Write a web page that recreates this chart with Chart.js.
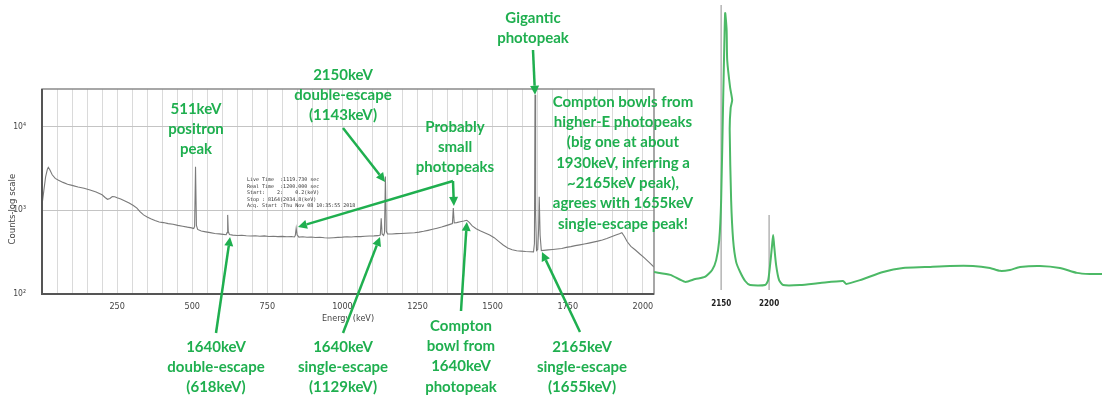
<!DOCTYPE html>
<html><head><meta charset="utf-8">
<script src="https://cdn.jsdelivr.net/npm/chart.js@4"></script>
<style>
html,body{margin:0;padding:0;background:#fff;}
#wrap{position:relative;width:1102px;height:400px;}
canvas{position:absolute;left:0;top:0;}
</style>
</head><body>
<div id="wrap"><canvas id="c1" width="1102" height="400"></canvas><canvas id="c2" width="1102" height="400"></canvas></div>
<script>
// ---- Main spectrum (energy in keV, counts, log scale) ----
const energyKeV = [
  0,6,12,18,21,26,34,44,55,70,
  85,100,120,140,160,180,200,210,218,226,
  234,242,250,262,276,290,304,316,326,338,
  350,362,376,390,404,420,436,452,468,484,
  498,505,508,511,514,518,530,545,560,575,
  590,603,613,616,618,620,624,635,650,665,
  680,695,710,725,740,755,770,785,800,815,
  830,840,843,846,849,855,868,882,896,910,
  925,940,955,970,985,1000,1015,1030,1045,1060,
  1075,1090,1105,1118,1126,1129,1132,1137,1140,1143,
  1146,1150,1165,1180,1195,1210,1225,1240,1255,1270,
  1285,1300,1315,1330,1345,1358,1366,1369,1372,1380,
  1392,1404,1414,1422,1432,1445,1460,1475,1490,1505,
  1520,1535,1550,1565,1580,1595,1610,1625,1636,1639,
  1641,1643,1646,1650,1653,1655,1658,1662,1670,1685,
  1700,1715,1730,1745,1760,1775,1790,1805,1820,1835,
  1850,1865,1880,1895,1910,1922,1930,1938,1948,1960,
  1975,1990,2005,2020,2037
];
const counts = [
  1150,1700,2500,3100,3250,3050,2650,2400,2280,2150,
  2040,1980,1890,1830,1740,1650,1530,1420,1350,1380,
  1460,1450,1410,1360,1290,1220,1140,1060,960,880,
  830,790,755,725,712,692,680,660,645,628,
  616,605,640,3300,660,590,565,552,540,528,
  522,515,510,540,880,560,512,505,500,503,
  496,492,495,490,494,486,490,484,488,482,
  486,480,500,610,510,478,482,475,479,472,
  476,469,466,470,474,477,482,480,486,484,
  489,492,494,497,505,800,520,500,540,2520,
  560,522,520,526,528,532,535,538,548,560,
  575,592,610,630,655,678,692,1060,705,712,
  728,742,758,715,650,600,565,535,505,470,
  425,385,355,338,328,325,322,320,318,400,
  23900,900,330,340,600,1450,500,330,332,336,
  340,345,350,360,368,378,386,395,405,416,
  428,442,460,482,505,525,540,490,420,370,
  335,300,270,240,210
];
const gridKeV = [0,50,100,150,200,250,300,350,400,450,500,550,600,650,700,750,800,850,900,950,1000,1050,1100,1150,1200,1250,1300,1350,1400,1450,1500,1550,1600,1650,1700,1750,1800,1850,1900,1950,2000];
const xLabelKeV = [250,500,750,1000,1250,1500,1750,2000];
const yTickValues = [100,1000,10000];
const yTickLabels = ['10²','10³','10⁴'];
const infoLines = [
  'Live Time  :1119.730 sec',
  'Real Time  :1200.000 sec',
  'Start:    2:    0.2(keV)',
  'Stop : 8164(2034.8(keV)',
  'Acq. Start :Thu Nov 08 10:35:55 2018'
];

// ---- Zoomed high-energy trace (relative intensity) ----
const zoomEnergyKeV = [2080,2097,2112.5,2123,2133,2140.6,2144.8,2148,2150,2152.1,2153.4,2154.2,2155.7,2156.3,2159.4,2161.5,2159.9,2158.9,2160.4,2162.5,2165.6,2169.8,2175,2180.2,2195.8,2199,2201,2203.1,2204.2,2205.2,2207.3,2210.4,2214.6,2232.3,2253.1,2277.1,2280.2,2294.8,2318.8,2339.6,2362.5,2388.5,2412.5,2430.2,2440.6,2451,2461.5,2482.3,2503.1,2520.8,2534.4,2547];
const zoomIntensity = [6.2,5.2,2.8,3.8,4.5,6.9,10.3,17.2,31,65.5,86.2,95.5,89.7,79.3,69.7,65.5,62.8,55.2,31,17.2,9.7,6.2,3.1,1.7,1.7,3.4,8.6,15.5,19,15.5,8.6,3.4,1.7,1.7,2.4,3.1,2.1,3.4,6.2,7.6,7.9,8.3,8.3,7.6,6.6,6.9,7.9,8.3,7.6,5.9,5.5,5.5];
const zoomMarkerKeV = [2150, 2200];
const zoomMarkerTop = [98.3, 25.9];
const zoomTickKeV = [2150, 2200];

const GREEN = '#1faf4f';
const notes = [
  {lines:['511keV','positron','peak'], x:196, y:109},
  {lines:['2150keV','double-escape','(1143keV)'], x:343, y:75},
  {lines:['Probably','small','photopeaks'], x:455, y:127},
  {lines:['Gigantic','photopeak'], x:533, y:18},
  {lines:['Compton bowls from','higher-E photopeaks','(big one at about','1930keV, inferring a','~2165keV peak),','agrees with 1655keV','single-escape peak!'], x:623, y:102},
  {lines:['1640keV','double-escape','(618keV)'], x:216, y:347},
  {lines:['1640keV','single-escape','(1129keV)'], x:343, y:347},
  {lines:['Compton','bowl from','1640keV','photopeak'], x:461, y:326},
  {lines:['2165keV','single-escape','(1655keV)'], x:582, y:347}
];
const arrows = [
  {from:[216,333], e:626, c:480},
  {from:[343,333], e:1125, c:480},
  {from:[461,311], e:1414, c:725},
  {from:[580,332], e:1664, c:317},
  {from:[343,128], e:1142, c:2180},
  {from:[453,181], e:1371, c:1125},
  {from:[453,181], e:852, c:632},
  {from:[533,50], e:1641, c:23900}
];

function drawArrow(ctx,x0,y0,x1,y1){
  const ang=Math.atan2(y1-y0,x1-x0), L=9, W=4.5;
  const bx=x1-L*Math.cos(ang), by=y1-L*Math.sin(ang);
  ctx.beginPath(); ctx.moveTo(x0,y0); ctx.lineTo(bx,by); ctx.stroke();
  ctx.beginPath(); ctx.moveTo(x1,y1);
  ctx.lineTo(bx+W*Math.sin(ang), by-W*Math.cos(ang));
  ctx.lineTo(bx-W*Math.sin(ang), by+W*Math.cos(ang));
  ctx.closePath(); ctx.fill();
}

const annotate = {
  id:'annotate',
  afterDraw(chart){
    const {ctx, chartArea:a, scales:{x,y}} = chart;
    ctx.save();
    ctx.strokeStyle='#8a8a8a'; ctx.lineWidth=1.5;
    ctx.strokeRect(a.left, a.top, a.right-a.left, a.bottom-a.top);
    ctx.strokeStyle='#555'; ctx.lineWidth=2;
    ctx.beginPath(); ctx.moveTo(a.left,a.top); ctx.lineTo(a.left,a.bottom); ctx.lineTo(a.right,a.bottom); ctx.stroke();
    ctx.fillStyle='#333'; ctx.font='5px "DejaVu Sans Mono"'; ctx.textAlign='left'; ctx.textBaseline='middle';
    infoLines.forEach((t,i)=>ctx.fillText(t, 247, 180+i*6.5));
    ctx.strokeStyle=GREEN; ctx.fillStyle=GREEN; ctx.lineWidth=2.5;
    arrows.forEach(ar=>drawArrow(ctx, ar.from[0], ar.from[1], x.getPixelForValue(ar.e), y.getPixelForValue(ar.c)));
    ctx.font='bold 15px Lato'; ctx.textAlign='center';
    notes.forEach(n=>n.lines.forEach((t,i)=>ctx.fillText(t, n.x, n.y+i*20.3)));
    ctx.restore();
  }
};

new Chart(document.getElementById('c1'), {
  type:'line',
  data:{datasets:[{
    data: energyKeV.map((e,i)=>({x:e, y:counts[i]})),
    borderColor:'#7a7a7a', borderWidth:1.1, pointRadius:0, tension:0, fill:false
  }]},
  options:{
    responsive:false, animation:false,
    layout:{padding:{left:0, top:89, right:448, bottom:76}},
    plugins:{legend:{display:false}, tooltip:{enabled:false}},
    scales:{
      x:{type:'linear', min:0, max:2037,
        afterBuildTicks:s=>{s.ticks=gridKeV.map(v=>({value:v}));},
        afterFit:s=>{s.height=30;},
        grid:{color:'#dadada', lineWidth:1, drawTicks:false}, border:{display:false},
        ticks:{autoSkip:false, maxRotation:0, padding:7, color:'#444',
          font:{size:9, family:'"DejaVu Sans Condensed","DejaVu Sans",sans-serif'},
          callback:v=>xLabelKeV.includes(v)?String(v):''},
        title:{display:true, text:'Energy (keV)', color:'#444', padding:{top:0,bottom:0},
          font:{size:9, family:'"DejaVu Sans Condensed","DejaVu Sans",sans-serif'}}
      },
      y:{type:'logarithmic', min:100, max:28000,
        afterBuildTicks:s=>{s.ticks=yTickValues.map(v=>({value:v}));},
        afterFit:s=>{s.width=42;},
        grid:{color:'#c4c4c4', lineWidth:1, drawTicks:false}, border:{display:false},
        ticks:{padding:16, color:'#444', font:{size:8.5, family:'"DejaVu Sans Condensed","DejaVu Sans",sans-serif'},
          callback:v=>{const i=yTickValues.indexOf(v); return i>=0?yTickLabels[i]:'';}},
        title:{display:true, text:'Counts-log scale' + '\u00A0'.repeat(13), color:'#444', padding:{top:7,bottom:0},
          font:{size:9.5, family:'"DejaVu Sans Condensed","DejaVu Sans",sans-serif'}}
      }
    }
  },
  plugins:[annotate]
});

new Chart(document.getElementById('c2'), {
  type:'line',
  data:{datasets:[
    {data: zoomEnergyKeV.map((e,i)=>({x:e, y:zoomIntensity[i]})),
     borderColor:'#4cb966', borderWidth:2, pointRadius:0, tension:0.2, fill:false},
    {data:[{x:zoomMarkerKeV[0],y:0},{x:zoomMarkerKeV[0],y:zoomMarkerTop[0]}],
     borderColor:'#b4b4b4', borderWidth:1.5, pointRadius:0},
    {data:[{x:zoomMarkerKeV[1],y:0},{x:zoomMarkerKeV[1],y:zoomMarkerTop[1]}],
     borderColor:'#b4b4b4', borderWidth:1.5, pointRadius:0}
  ]},
  options:{
    responsive:false, animation:false,
    layout:{padding:{left:654, top:0, right:0, bottom:90}},
    plugins:{legend:{display:false}, tooltip:{enabled:false}},
    scales:{
      x:{type:'linear', min:2080, max:2547,
        afterBuildTicks:s=>{s.ticks=zoomTickKeV.map(v=>({value:v}));},
        afterFit:s=>{s.height=20;},
        grid:{display:false, drawTicks:false}, border:{display:false},
        ticks:{autoSkip:false, maxRotation:0, padding:9, color:'#222',
          font:{size:8, weight:'bold', family:'"DejaVu Sans Condensed","DejaVu Sans",sans-serif'},
          callback:v=>String(v)}
      },
      y:{display:false, min:0, max:100}
    }
  }
});
</script>
</body></html>
